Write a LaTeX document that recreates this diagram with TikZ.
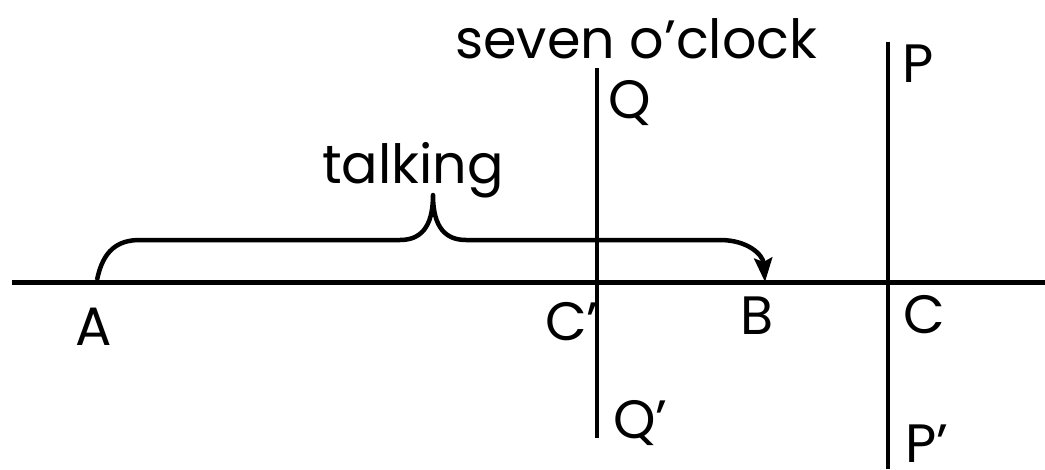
\documentclass[tikz,border=0pt]{standalone}
\usepackage{fontspec}
\setmainfont{Poppins}
\usetikzlibrary{arrows.meta, positioning}

\begin{document}
\begin{tikzpicture}[x=1pt, y=-1pt, semithick]
\tikzstyle{lbl}=[inner sep=0pt, anchor=base west, font=\fontsize{54}{54}\selectfont]
\tikzstyle{axis}=[line width=5pt]
\tikzstyle{cut}=[line width=3.5pt]

\useasboundingbox (0,0) rectangle (1045,469);

% time line and the two cuts
\coordinate (L) at (12,282);
\coordinate (R) at (1045,282);
\coordinate (Qt) at (597,68);
\coordinate (Qb) at (597,438);
\coordinate (Pt) at (888,42);
\coordinate (Pb) at (888,469);

\draw[axis] (L) -- (R);
\draw[cut] (Qt) -- (Qb);
\draw[cut] (Pt) -- (Pb);

% the brace
\coordinate (b0) at (97,280);
\coordinate (b1) at (140,240);
\coordinate (b2) at (400,240);
\coordinate (tip) at (433,195);
\coordinate (b3) at (466,240);
\coordinate (b4) at (720,240);
\coordinate (b5) at (765,282);

\draw[axis, line width=4.5pt, line join=round]
  (b0) .. controls (103,250) and (118,240) .. (b1) -- (b2)
       .. controls (420,240) and (433,228) .. (tip)
       .. controls (433,228) and (446,240) .. (b3) -- (b4);
\draw[-{Stealth[length=24pt,width=18pt,inset=4pt]}, line width=4.5pt]
  (b4) .. controls (748,240) and (763,255) .. (b5);

% labels
\node[lbl] (seven) at (455,58) {seven o’clock};
\node[lbl] (talk) at (322,183) {talking};
\node[lbl] (Q) at (608,118) {Q};
\node[lbl] (Qp) at (613,438) {Q’};
\node[lbl] (P) at (902,82) {P};
\node[lbl] (Pp) at (905,462) {P’};
\node[lbl] (A) at (75,345) {A};
\node[lbl] (Cp) at (545,340) {C’};
\node[lbl] (B) at (740,334) {B};
\node[lbl] (C) at (903,333) {C};
\end{tikzpicture}
\end{document}
